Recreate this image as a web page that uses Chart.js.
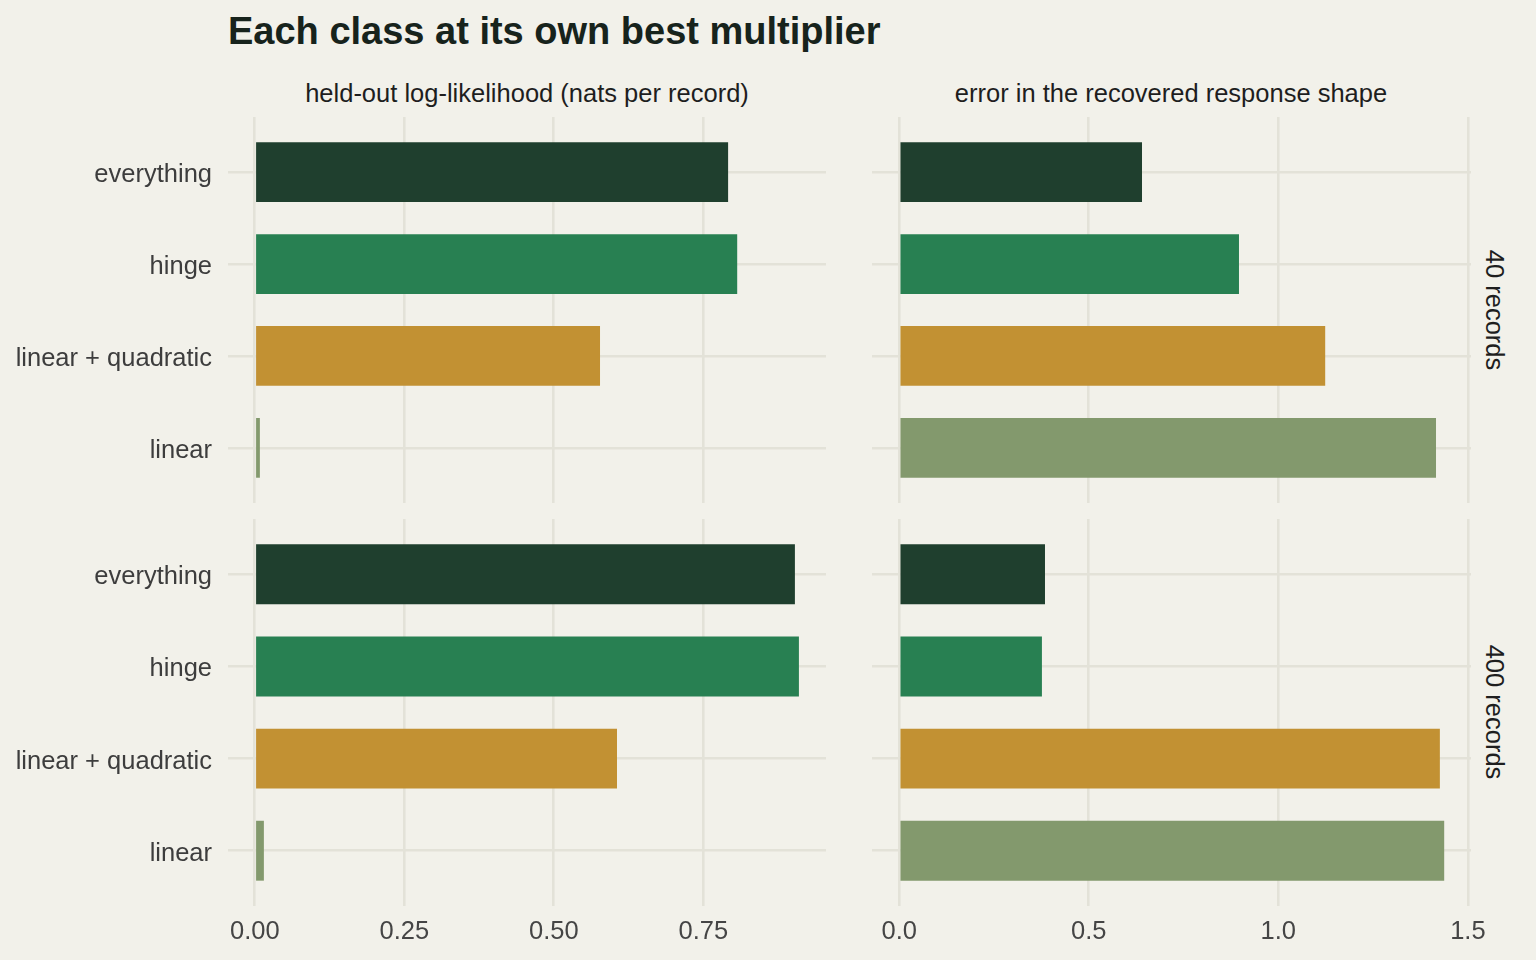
<!DOCTYPE html>
<html><head><meta charset="utf-8">
<script src="https://cdn.jsdelivr.net/npm/chart.js@4/dist/chart.umd.min.js"></script>
<style>
html,body{margin:0;padding:0;background:#f2f1ea;}
body{width:1536px;height:960px;position:relative;overflow:hidden;font-family:"Liberation Sans",Arial,sans-serif;}
canvas{position:absolute;}
.t{position:absolute;white-space:nowrap;line-height:1;}
#title{left:228px;top:12px;font-size:38px;font-weight:bold;color:#17231c;}
.strip{font-size:25.5px;color:#1e1e1e;transform:translate(-50%,-50%);}
.rstrip{font-size:25.5px;color:#1e1e1e;transform:translate(-50%,-50%) rotate(90deg);}
</style></head><body>
<div id="title" class="t"></div>
<div id="col0" class="t strip" style="left:527px;top:94px"></div>
<div id="col1" class="t strip" style="left:1171px;top:94px"></div>
<div id="row0" class="t rstrip" style="left:1494px;top:310px"></div>
<div id="row1" class="t rstrip" style="left:1494px;top:712px"></div>
<canvas id="tl" width="826" height="386" style="left:0px;top:117px"></canvas>
<canvas id="tr" width="599" height="386" style="left:872px;top:117px"></canvas>
<canvas id="bl" width="826" height="441" style="left:0px;top:519px"></canvas>
<canvas id="br" width="640" height="441" style="left:872px;top:519px"></canvas>
<script>
const chartTitle = "Each class at its own best multiplier";
const columnTitles = ["held-out log-likelihood (nats per record)", "error in the recovered response shape"];
const rowTitles = ["40 records", "400 records"];
const categories = ["everything", "hinge", "linear + quadratic", "linear"];
const classColors = ["#1f3f2e", "#288052", "#c29133", "#83996d"];
const logLik40 = [0.7915, 0.8067, 0.5773, 0.0085];
const logLik400 = [0.9032, 0.9099, 0.6057, 0.0152];
const shapeErr40 = [0.6405, 0.8963, 1.1237, 1.416];
const shapeErr400 = [0.3846, 0.3765, 1.4262, 1.4376];
const logLikTicks = [0, 0.25, 0.5, 0.75];
const logLikTickLabels = ["0.00", "0.25", "0.50", "0.75"];
const shapeErrTicks = [0, 0.5, 1.0, 1.5];
const shapeErrTickLabels = ["0.0", "0.5", "1.0", "1.5"];

document.getElementById('title').textContent = chartTitle;
document.getElementById('col0').textContent = columnTitles[0];
document.getElementById('col1').textContent = columnTitles[1];
document.getElementById('row0').textContent = rowTitles[0];
document.getElementById('row1').textContent = rowTitles[1];

Chart.defaults.font.family = '"Liberation Sans", Arial, sans-serif';
const gridColor = '#e3e2d8';
function noPad(s) { s.paddingTop = 0; s.paddingBottom = 0; s.paddingLeft = 0; s.paddingRight = 0; }

function panel(id, values, xmin, xmax, ticks, tickLabels, showX, showY, padRight) {
  new Chart(document.getElementById(id), {
    type: 'bar',
    data: {
      datasets: [{
        data: values.map((v, i) => ({ x: v, y: i })),
        backgroundColor: classColors,
        borderWidth: 0,
        barPercentage: 0.65,
        categoryPercentage: 1
      }]
    },
    options: {
      indexAxis: 'y',
      responsive: false,
      animation: false,
      layout: { padding: { left: 0, top: 0, bottom: 0, right: padRight } },
      plugins: { legend: { display: false }, tooltip: { enabled: false } },
      scales: {
        x: {
          type: 'linear', position: 'bottom', min: xmin, max: xmax, offset: false,
          afterBuildTicks: s => { s.ticks = ticks.map(v => ({ value: v })); },
          afterFit: s => { s.height = showX ? 54 : 0; noPad(s); },
          ticks: { display: showX, font: { size: 25.5 }, color: '#454545', padding: 11, maxRotation: 0, autoSkip: false,
                   callback: (v, i) => tickLabels[i] },
          grid: { color: gridColor, lineWidth: 2.6, drawTicks: false, offset: false },
          border: { display: false }
        },
        y: {
          type: 'linear', position: 'left', min: -0.6, max: 3.6, reverse: true, offset: false,
          afterBuildTicks: s => { s.ticks = categories.map((c, i) => ({ value: i })); },
          afterFit: s => { s.width = showY ? 228 : 0; noPad(s); },
          ticks: { display: showY, font: { size: 25.5 }, color: '#3d3d3d', padding: 16, autoSkip: false, labelOffset: 3,
                   callback: v => categories[v] },
          grid: { color: gridColor, lineWidth: 2.6, drawTicks: false, offset: false },
          border: { display: false }
        }
      }
    }
  });
}
panel('tl', logLik40, -0.0448, 0.9552, logLikTicks, logLikTickLabels, false, true, 0);
panel('tr', shapeErr40, -0.0717, 1.5083, shapeErrTicks, shapeErrTickLabels, false, false, 0);
panel('bl', logLik400, -0.0448, 0.9552, logLikTicks, logLikTickLabels, true, true, 0);
panel('br', shapeErr400, -0.0717, 1.5083, shapeErrTicks, shapeErrTickLabels, true, false, 41);
</script>
</body></html>
